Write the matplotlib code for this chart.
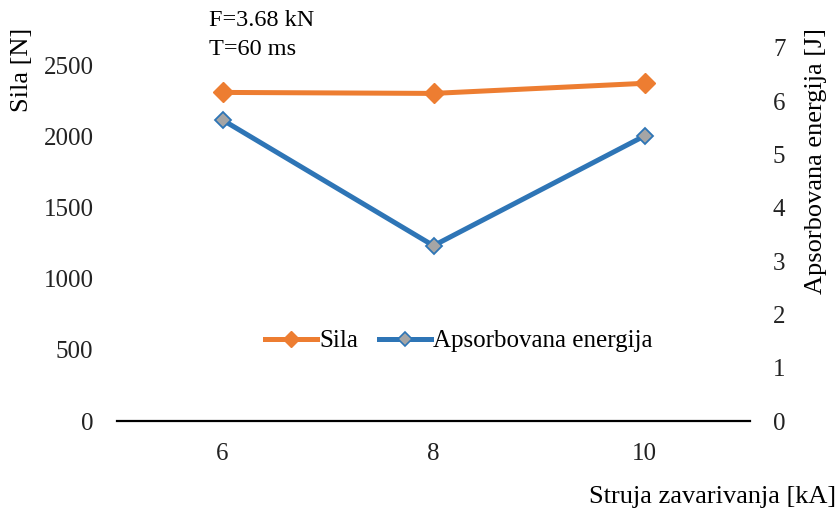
import matplotlib
matplotlib.use("Agg")
import matplotlib.pyplot as plt
from matplotlib.lines import Line2D

plt.rcParams['font.family'] = ['Liberation Serif', 'DejaVu Serif']

# Welding current categories and measured values
struja = ["6", "8", "10"]
sila = [2308, 2301, 2372]          # N
energija = [5.65, 3.29, 5.35]      # J
left_ticks = [0, 500, 1000, 1500, 2000, 2500]
right_ticks = [0, 1, 2, 3, 4, 5, 6, 7]

ORANGE = "#ED7D31"
BLUE = "#2E75B6"
GREY = "#A5A5A5"
FS = 18
FT = 19

fig = plt.figure(figsize=(8.38, 5.17), dpi=100)
ax = fig.add_axes([117 / 838, 96 / 517, 633 / 838, 373 / 517])
ax2 = ax.twinx()

x = list(range(len(struja)))
ax.plot(x, sila, color=ORANGE, lw=3.6, marker="D", ms=10,
        mfc=ORANGE, mec=ORANGE, zorder=3, solid_capstyle="round")
ax2.plot(x, energija, color=BLUE, lw=3.6, marker="D", ms=8.5,
         mfc=GREY, mec=BLUE, mew=1.3, zorder=3, solid_capstyle="round")

ax.set_xlim(-0.5, 2.5)
ax.set_ylim(0, 2620)
ax2.set_ylim(0, 7)
ax.set_xticks(x)
ax.set_xticklabels(struja)
ax.set_yticks(left_ticks)
ax2.set_yticks(right_ticks)

for a in (ax, ax2):
    for s in ("top", "left", "right", "bottom"):
        a.spines[s].set_visible(False)
    a.tick_params(length=0, labelsize=FS, colors="#222222")
ax.spines["bottom"].set_visible(True)
ax.spines["bottom"].set_linewidth(1.6)
ax.spines["bottom"].set_color("black")
ax.tick_params(axis="y", pad=17)
ax2.tick_params(axis="y", pad=16.5)
ax.tick_params(axis="x", pad=16)

fig.text(22 / 838, 1 - 70 / 517, "Sila [N]", rotation=90, ha="center",
         va="center", fontsize=FT)
fig.text(816 / 838, 1 - 161 / 517, "Apsorbovana energija [J]", rotation=90,
         ha="center", va="center", fontsize=FT)
fig.text(836 / 838, 1 - 497 / 517, "Struja zavarivanja [kA]", ha="right",
         va="center", fontsize=FT)
fig.text(209 / 838, 1 - 20 / 517, "F=3.68 kN", ha="left", va="center",
         fontsize=17.5)
fig.text(209 / 838, 1 - 50 / 517, "T=60 ms", ha="left", va="center",
         fontsize=17.5)

handles = [
    Line2D([], [], color=ORANGE, lw=3.6, marker="D", ms=8, mfc=ORANGE,
           mec=ORANGE),
    Line2D([], [], color=BLUE, lw=3.6, marker="D", ms=7, mfc=GREY,
           mec=BLUE, mew=1.2),
]
fig.legend(handles, ["Sila", "Apsorbovana energija"], loc="center",
           bbox_to_anchor=(459 / 838, 1 - 341 / 517), ncol=2, frameon=False,
           fontsize=FS, handlelength=2.05, handletextpad=0.1,
           columnspacing=0.85)

fig.savefig("out.png", dpi=100)
